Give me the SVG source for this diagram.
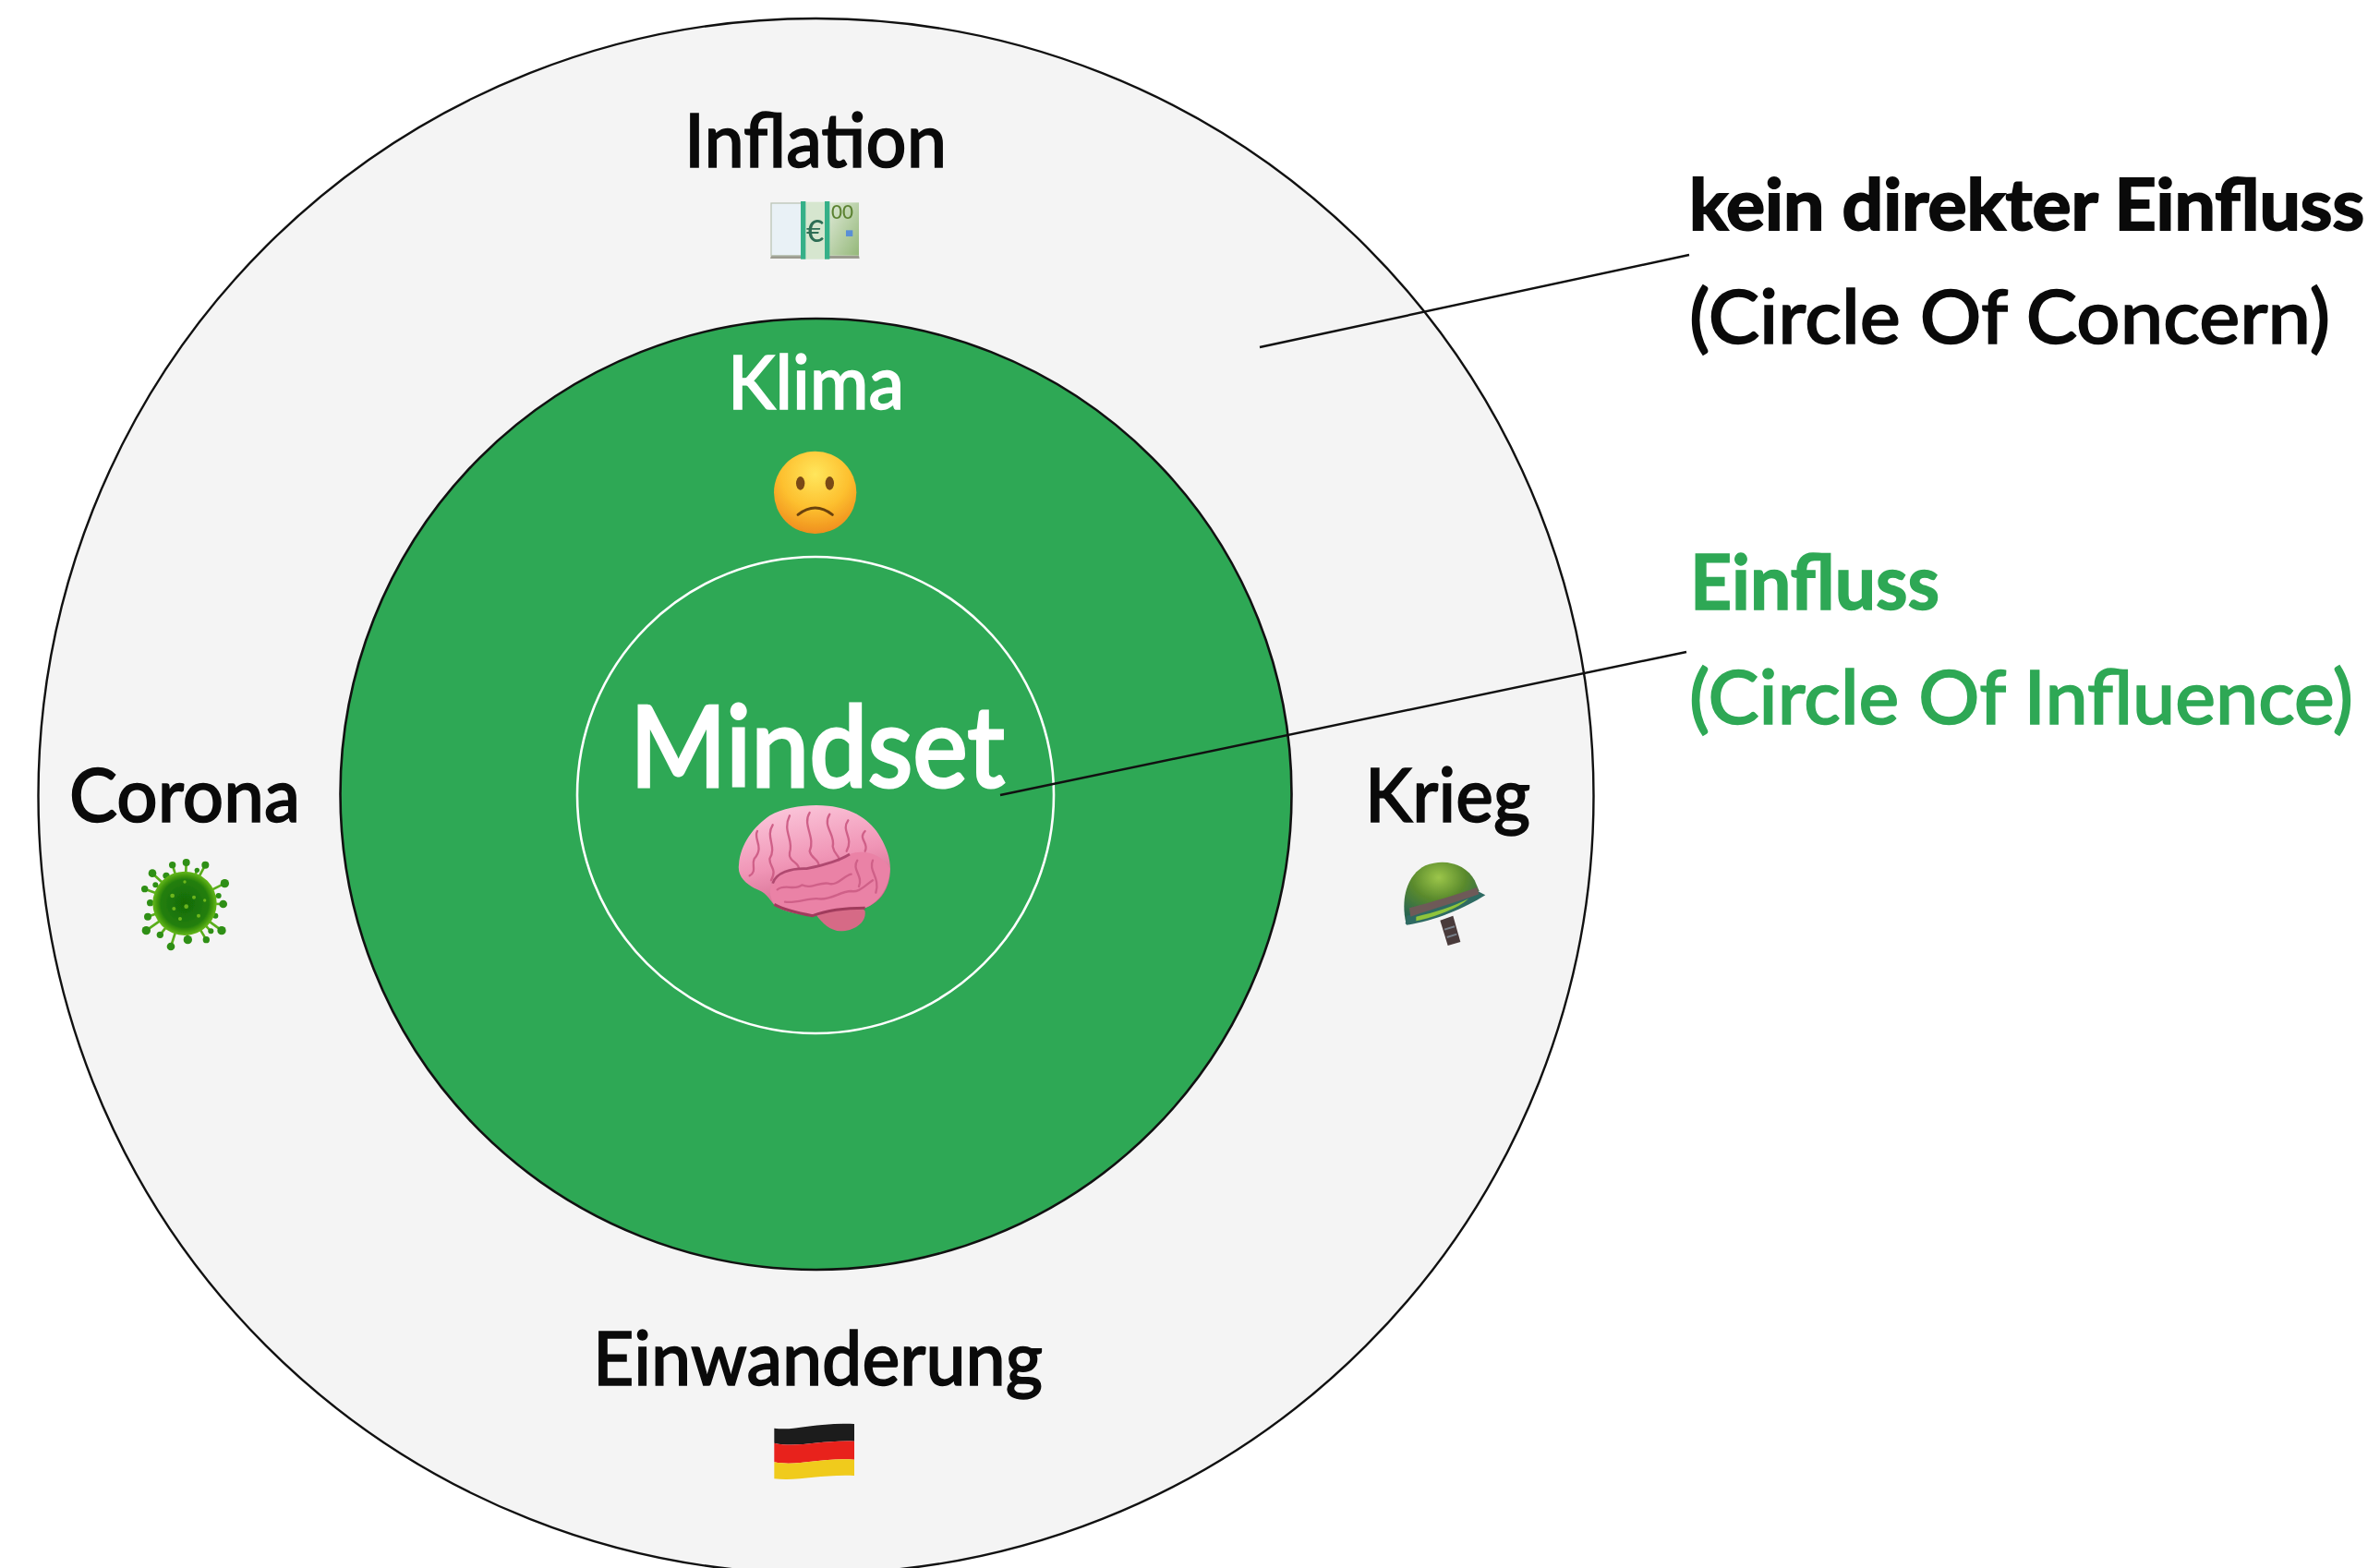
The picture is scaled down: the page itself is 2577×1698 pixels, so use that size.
<svg xmlns="http://www.w3.org/2000/svg" width="2577" height="1698" viewBox="0 0 2577 1698">
<style>
text{font-family:"Lato","Liberation Sans",sans-serif;font-weight:500}
.k{fill:#0a0a0a;font-size:82px;stroke:#0a0a0a;stroke-width:1.500px}
.w{fill:#fff;font-size:82px;stroke:#fff;stroke-width:1.500px}
.g{fill:#2ea855;stroke:#2ea855;stroke-width:1.500px}
.b{font-weight:700}
.line{stroke:#111;stroke-width:2.400px;fill:none}
</style>
<defs>
<radialGradient id="face" cx="50%" cy="28%" r="75%"><stop offset="0" stop-color="#ffe65c"/><stop offset=".55" stop-color="#fdc02f"/><stop offset="1" stop-color="#ee8a1c"/></radialGradient>
<linearGradient id="brainTop" x1="0.3" y1="0" x2="0.6" y2="1"><stop offset="0" stop-color="#fbc6da"/><stop offset=".5" stop-color="#f095b6"/><stop offset="1" stop-color="#c95f82"/></linearGradient>
<radialGradient id="helmet" cx="46%" cy="25%" r="72%"><stop offset="0" stop-color="#9cc64a"/><stop offset=".5" stop-color="#5a8a2c"/><stop offset="1" stop-color="#2a6650"/></radialGradient>
<radialGradient id="virus" cx="50%" cy="50%" r="50%"><stop offset="0" stop-color="#126a06"/><stop offset=".75" stop-color="#247f08"/><stop offset="1" stop-color="#65b818"/></radialGradient>
<linearGradient id="bill" x1="0" y1="0" x2="1" y2="1"><stop offset="0" stop-color="#dfead8"/><stop offset="1" stop-color="#95b87a"/></linearGradient>
<filter id="soft" x="-10%" y="-10%" width="120%" height="120%"><feGaussianBlur stdDeviation="0.8"/></filter>
<filter id="softer" x="-10%" y="-10%" width="120%" height="120%"><feGaussianBlur stdDeviation="1.2"/></filter>
</defs>

<g id="circle-of-concern"><circle cx="883.500" cy="862" r="842" fill="#f4f4f4" stroke="#111" stroke-width="2.4"/></g>
<g id="circle-of-influence"><circle cx="883.500" cy="860" r="515" fill="#2ea855" stroke="#111" stroke-width="2.6"/></g>
<g id="mindset-circle"><circle cx="883" cy="861" r="258" fill="none" stroke="#fff" stroke-width="2.6"/></g>

<g id="connectors">
<line class="line" x1="1364" y1="376" x2="1829" y2="276"/>
<line class="line" x1="1083" y1="861" x2="1826" y2="706"/>
</g>

<g id="inflation">
<text class="k" x="741" y="181" textLength="284" lengthAdjust="spacingAndGlyphs">Inflation</text>
<g transform="translate(700,80) scale(.33333)" filter="url(#soft)">
<path d="M405,590 L690,590 L692,600 L402,600Z" fill="#9b9b8f"/>
<rect x="405" y="420" width="100" height="170" fill="#e9f1f6" stroke="#bcc6b8" stroke-width="4"/>
<rect x="592" y="418" width="98" height="172" fill="url(#bill)"/>
<rect x="503" y="416" width="90" height="186" fill="#d6e6cf"/>
<rect x="501" y="414" width="16" height="188" fill="#35b088"/><rect x="579" y="414" width="16" height="188" fill="#35b088"/>
<text x="548" y="545" text-anchor="middle" style="font-size:100px;fill:#2e6e55">€</text>
<text x="600" y="472" style="font-size:62px;fill:#5c8232">00</text>
<rect x="648" y="508" width="22" height="20" fill="#5a8fd6"/>
</g>
</g>

<g id="klima">
<text class="w" x="788" y="443" textLength="191" lengthAdjust="spacingAndGlyphs">Klima</text>
<g transform="translate(700,80) scale(.33333)" filter="url(#soft)">
<circle cx="548" cy="1360" r="134" fill="url(#face)"/>
<ellipse cx="500" cy="1330" rx="14" ry="22" fill="#7a4a14"/><ellipse cx="595" cy="1330" rx="14" ry="22" fill="#7a4a14"/>
<path d="M492,1432 Q548,1388 604,1432" fill="none" stroke="#6b4210" stroke-width="9" stroke-linecap="round"/>
</g>
</g>

<g id="mindset">
<text class="w" x="682" y="852" textLength="406" lengthAdjust="spacingAndGlyphs" style="font-size:122px;stroke-width:3px">Mindset</text>
<g transform="translate(620,700) scale(.33333)" filter="url(#soft)">
<path d="M790,870 C830,830 930,830 950,860 C955,900 910,925 870,925 C840,925 810,900 790,870Z" fill="#d66a86"/>
<path d="M540,710 C545,640 590,585 640,550 C690,520 770,512 830,518 C910,525 970,565 1000,620 C1030,670 1040,720 1025,770 C1010,815 985,835 950,850 C880,850 820,860 780,875 C730,865 680,860 655,840 C635,815 630,800 590,785 C560,770 535,745 540,710Z" fill="url(#brainTop)"/>
<path d="M645,775 C660,735 710,720 760,722 C810,712 860,700 900,675 C950,655 1010,680 1030,720 C1030,780 1000,830 950,850 C880,850 820,860 780,878 C720,865 665,860 650,830 C640,810 640,790 645,775Z" fill="#ea82a6"/>
<g fill="none" stroke="#cf6088" stroke-width="7" stroke-linecap="round" stroke-linejoin="round">
<path d="M600,600 C585,625 625,650 590,690 C580,710 600,730 575,745 M650,580 C625,620 665,650 640,690 C640,720 665,720 645,760 M705,550 C680,600 720,630 705,670 C700,700 735,700 735,722 M770,540 C745,580 790,620 770,665 C775,690 800,690 800,712 M835,545 C810,585 855,610 845,650 C850,680 870,680 865,695 M895,565 C870,600 915,620 890,665 M950,600 C925,625 965,640 950,665"/>
<path d="M665,790 C690,770 720,795 745,775 C775,790 800,765 830,770 C860,780 880,745 905,740 M690,830 C730,835 770,815 800,820 C840,825 870,795 905,795 C930,800 945,780 975,760 M925,695 C905,725 945,745 930,780 M975,695 C960,730 1000,750 985,800"/>
</g>
<path d="M650,770 C660,735 710,720 760,722 C810,712 860,700 900,675" fill="none" stroke="#b04a70" stroke-width="8"/>
<path d="M655,838 C690,858 740,868 780,875 C820,860 880,850 950,850" fill="none" stroke="#a03a5c" stroke-width="9"/>
</g>
</g>

<g id="corona">
<text class="k" x="75" y="890" textLength="250" lengthAdjust="spacingAndGlyphs">Corona</text>
<g transform="translate(40,780) scale(.33333)" filter="url(#softer)">
<g stroke="#5aae1c" stroke-width="8"><path d="M480,595L485,462M480,595L440,470M480,595L547,470M480,595L375,497M480,595L420,505M480,595L520,487M480,595L610,530M480,595L350,548M480,595L385,535M480,595L590,570M480,595L605,597M480,595L368,593M480,595L360,638M480,595L580,635M480,595L600,683M480,595L355,683M480,595L400,697M480,595L435,735M480,595L490,713M480,595L550,713M480,595L565,685"/></g>
<g fill="#2f8f12"><circle cx="485" cy="462" r="12"/><circle cx="440" cy="470" r="11"/><circle cx="547" cy="470" r="12"/><circle cx="375" cy="497" r="13"/><circle cx="420" cy="505" r="11"/><circle cx="520" cy="487" r="8"/><circle cx="610" cy="530" r="14"/><circle cx="350" cy="548" r="11"/><circle cx="385" cy="535" r="9"/><circle cx="590" cy="570" r="9"/><circle cx="605" cy="597" r="13"/><circle cx="368" cy="593" r="11"/><circle cx="360" cy="638" r="12"/><circle cx="580" cy="635" r="9"/><circle cx="600" cy="683" r="14"/><circle cx="355" cy="683" r="14"/><circle cx="400" cy="697" r="11"/><circle cx="435" cy="735" r="13"/><circle cx="490" cy="713" r="14"/><circle cx="550" cy="713" r="11"/><circle cx="565" cy="685" r="9"/></g>
<circle cx="480" cy="595" r="104" fill="url(#virus)"/>
<g fill="#8fd12a" opacity=".7"><circle cx="440" cy="570" r="7"/><circle cx="510" cy="575" r="6"/><circle cx="485" cy="605" r="7"/><circle cx="445" cy="612" r="6"/><circle cx="465" cy="645" r="6"/><circle cx="525" cy="635" r="6"/><circle cx="480" cy="525" r="5"/><circle cx="545" cy="585" r="5"/></g>
</g>
</g>

<g id="krieg">
<text class="k" x="1478" y="890" textLength="179" lengthAdjust="spacingAndGlyphs">Krieg</text>
<g transform="translate(1440,800) scale(.33333)" filter="url(#soft)">
<path d="M358,590 L383,672 L424,660 L400,575Z" fill="#4a3a3a"/>
<path d="M372,620 L405,610 M380,645 L412,635" stroke="#77808a" stroke-width="6"/>
<path d="M247,600 C228,510 255,440 310,412 C375,385 445,410 470,460 L485,495 Z" fill="url(#helmet)"/>
<path d="M245,600 L250,575 C330,555 430,525 480,495 L505,508 C440,550 340,592 250,605Z" fill="#2f6a62"/>
<path d="M258,550 C330,530 420,505 478,482 L484,505 C420,528 340,552 262,578Z" fill="#6e5a58"/>
<path d="M280,578 C340,565 400,545 450,520 C420,550 340,580 280,592Z" fill="#8fc43a"/>
</g>
</g>

<g id="einwanderung">
<text class="k" x="642" y="1500" textLength="487" lengthAdjust="spacingAndGlyphs">Einwanderung</text>
<g transform="translate(620,1400) scale(.33333)" filter="url(#soft)">
<path d="M655,440 C720,450 790,420 915,426 L915,482 C800,478 730,505 655,488Z" fill="#1a1a1a"/>
<path d="M655,488 C730,505 800,478 915,482 L915,542 C800,535 730,565 655,550Z" fill="#e8201f"/>
<path d="M655,550 C730,565 800,535 915,542 L915,594 C800,590 740,612 655,604Z" fill="#f0cb1a"/>
</g>
</g>

<g id="label-concern">
<text class="k b" x="1829" y="249" textLength="731" lengthAdjust="spacingAndGlyphs" style="font-size:76px;stroke-width:2px">kein direkter Einfluss</text>
<text class="k" x="1829" y="372" textLength="694" lengthAdjust="spacingAndGlyphs">(Circle Of Concern)</text>
</g>
<g id="label-influence">
<text class="g b" x="1830" y="660" textLength="270" lengthAdjust="spacingAndGlyphs" style="font-size:82px">Einfluss</text>
<text class="g" x="1829" y="784" textLength="719" lengthAdjust="spacingAndGlyphs" style="font-size:82px">(Circle Of Influence)</text>
</g>
</svg>
